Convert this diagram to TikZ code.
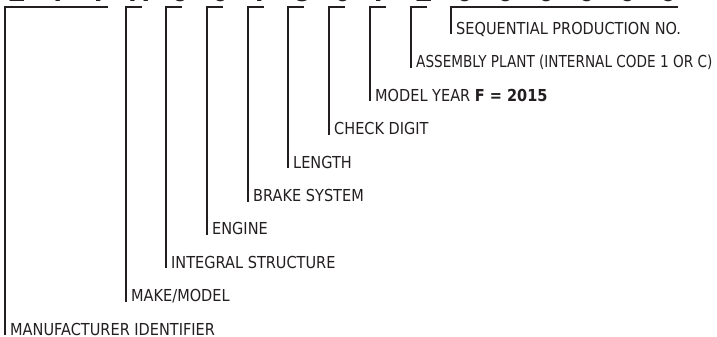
\documentclass[tikz,border=0pt]{standalone}
\usepackage{fontspec}
\setmainfont{DejaVu Sans}[FakeStretch=0.88]
\newfontfamily\narrowfont{DejaVu Sans}[FakeStretch=0.825]
\newfontfamily\vinfont{Liberation Sans}[BoldFont=* Bold]
\definecolor{ink}{HTML}{231F20}
\begin{document}
\begin{tikzpicture}[x=1pt,y=-1pt,
  lbl/.style={inner sep=0pt, anchor=base west, text=ink, font=\fontsize{16.5}{19}\selectfont},
  br/.style={draw=ink, line width=2.4pt, line join=miter, line cap=butt},
  vinchar/.style={inner sep=0pt, anchor=base, text=ink, font=\vinfont\bfseries\fontsize{30}{34}\selectfont}]
\useasboundingbox (0,0) rectangle (717,337);
% glimpses of the VIN characters, cut off at the top edge
\begin{scope}
\clip (0,0) rectangle (717,337);
\foreach \c [count=\k from 0] in {2,T,T,H,6,0,7,8,0,F,2,0,0,0,0,0,0}
  \node[vinchar] (v\k) at (17+40.7*\k,1.6) {\c};
\end{scope}
% labels
\node[lbl] (seq)  at (456,34.5)  {SEQUENTIAL PRODUCTION NO.};
\node[lbl] (asm)  at (416,67.9)  {\narrowfont ASSEMBLY PLANT (INTERNAL CODE 1 OR C)};
\node[lbl] (my)   at (375,101.3) {MODEL YEAR \textbf{F = 2015}};
\node[lbl] (chk)  at (334,134.7) {CHECK DIGIT};
\node[lbl] (len)  at (293,168.1) {LENGTH};
\node[lbl] (brk)  at (253,201.5) {BRAKE SYSTEM};
\node[lbl] (eng)  at (212,234.9) {ENGINE};
\node[lbl] (intg) at (171,268.3) {INTEGRAL STRUCTURE};
\node[lbl] (mk)   at (131,301.7) {MAKE/MODEL};
\node[lbl] (mfr)  at (10,335.1)  {MANUFACTURER IDENTIFIER};
% bracket tops
\coordinate (seqL) at (451,7);   \coordinate (seqR) at (678,7);
\coordinate (asmL) at (411,7);   \coordinate (asmR) at (427,7);
\coordinate (myL)  at (370,7);   \coordinate (myR)  at (386,7);
\coordinate (chkL) at (329,7);   \coordinate (chkR) at (345,7);
\coordinate (lenL) at (288,7);   \coordinate (lenR) at (304,7);
\coordinate (brkL) at (248,7);   \coordinate (brkR) at (264,7);
\coordinate (engL) at (207,7);   \coordinate (engR) at (223,7);
\coordinate (intL) at (166,7);   \coordinate (intR) at (182,7);
\coordinate (mkL)  at (126,7);   \coordinate (mkR)  at (142,7);
\coordinate (mfrL) at (5,7);     \coordinate (mfrR) at (108,7);
% brackets
\draw[br] (seqR) -- (seqL) -- (seqL |- seq.base);
\draw[br] (asmR) -- (asmL) -- (asmL |- asm.base);
\draw[br] (myR)  -- (myL)  -- (myL |- my.base);
\draw[br] (chkR) -- (chkL) -- (chkL |- chk.base);
\draw[br] (lenR) -- (lenL) -- (lenL |- len.base);
\draw[br] (brkR) -- (brkL) -- (brkL |- brk.base);
\draw[br] (engR) -- (engL) -- (engL |- eng.base);
\draw[br] (intR) -- (intL) -- (intL |- intg.base);
\draw[br] (mkR)  -- (mkL)  -- (mkL |- mk.base);
\draw[br] (mfrR) -- (mfrL) -- (mfrL |- mfr.base);
\end{tikzpicture}
\end{document}
